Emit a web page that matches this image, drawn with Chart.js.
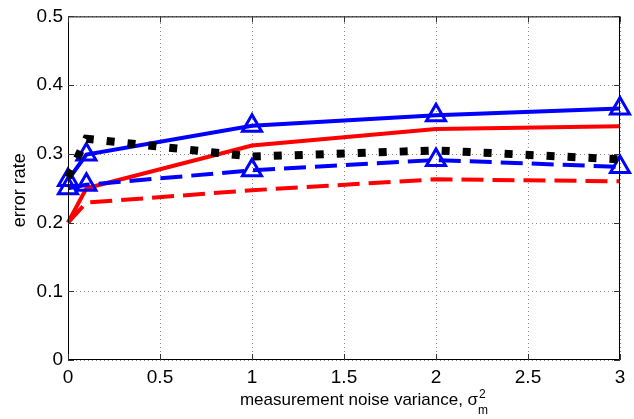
<!DOCTYPE html>
<html>
<head>
<meta charset="utf-8">
<script src="https://cdn.jsdelivr.net/npm/chart.js@4.4.0/dist/chart.umd.min.js"></script>
<style>
html, body { margin: 0; padding: 0; background: #fff; }
</style>
</head>
<body>
<canvas id="graph" width="634" height="419"></canvas>
<script>
// values
const noise = [0, 0.1, 1, 2, 3];
const blueSolid = [0.262, 0.299, 0.341, 0.356, 0.366];
const blueDashed = [0.250, 0.255, 0.276, 0.291, 0.281];
const redSolid = [0.200, 0.250, 0.312, 0.336, 0.340];
const redDashed = [0.200, 0.229, 0.247, 0.263, 0.260];
const blackDotted = [0.266, 0.322, 0.296, 0.305, 0.292];
const xTicks = [0, 0.5, 1, 1.5, 2, 2.5, 3];
const yTicks = [0, 0.1, 0.2, 0.3, 0.4, 0.5];
const xTitle = 'measurement noise variance, σ';
const yTitle = 'error rate';

const FONT = '"Liberation Sans", Arial, Helvetica, sans-serif';
const ctx = document.getElementById('graph');

function pts(arr) {
  return noise.map((x, i) => ({ x: x, y: arr[i] }));
}

// dotted grid under the lines
const dotGrid = {
  id: 'dotGrid',
  beforeDatasetsDraw(chart) {
    const c = chart.ctx;
    const a = chart.chartArea;
    const xs = chart.scales.x, ys = chart.scales.y;
    c.save();
    c.strokeStyle = '#8a8a8a';
    c.lineWidth = 1;
    c.setLineDash([1, 3]);
    c.beginPath();
    xTicks.forEach(v => {
      const px = Math.round(xs.getPixelForValue(v)) + 0.5;
      c.moveTo(px, a.bottom); c.lineTo(px, a.top);
    });
    yTicks.forEach(v => {
      const py = Math.round(ys.getPixelForValue(v)) + 0.5;
      c.moveTo(a.left, py); c.lineTo(a.right, py);
    });
    c.stroke();
    c.restore();
  }
};

// box, inward tick marks and axis titles, drawn like matlab does
const frame = {
  id: 'frame',
  afterDraw(chart) {
    const c = chart.ctx;
    const a = chart.chartArea;
    const xs = chart.scales.x, ys = chart.scales.y;
    c.save();
    c.strokeStyle = '#000';
    c.lineWidth = 1;
    c.beginPath();
    c.rect(a.left + 0.5, a.top + 0.5, a.right - a.left - 1, a.bottom - a.top - 1);
    c.stroke();

    c.strokeStyle = '#333';
    c.beginPath();
    xTicks.forEach(v => {
      const px = Math.round(xs.getPixelForValue(v)) + 0.5;
      c.moveTo(px, a.bottom); c.lineTo(px, a.bottom - 6);
      c.moveTo(px, a.top); c.lineTo(px, a.top + 6);
    });
    yTicks.forEach(v => {
      const py = Math.round(ys.getPixelForValue(v)) + 0.5;
      c.moveTo(a.left, py); c.lineTo(a.left + 6, py);
      c.moveTo(a.right, py); c.lineTo(a.right - 6, py);
    });
    c.stroke();

    // x title with stacked super/subscript
    c.fillStyle = '#000';
    c.textBaseline = 'alphabetic';
    c.textAlign = 'left';
    c.font = '17px ' + FONT;
    const w = c.measureText(xTitle).width;
    c.font = '12px ' + FONT;
    const sw = Math.max(c.measureText('2').width, c.measureText('m').width);
    const cx = (a.left + a.right) / 2 + 20;
    const x0 = cx - (w + sw) / 2;
    c.font = '17px ' + FONT;
    c.fillText(xTitle, x0, 405);
    c.font = '12px ' + FONT;
    c.fillText('2', x0 + w + 1, 398);
    c.fillText('m', x0 + w, 414);

    // y title
    c.save();
    c.translate(25, (a.top + a.bottom) / 2 + 2);
    c.rotate(-Math.PI / 2);
    c.textAlign = 'center';
    c.font = '18px ' + FONT;
    c.fillText(yTitle, 0, 0);
    c.restore();
    c.restore();
  }
};

const graph = new Chart(ctx, {
  type: 'line',
  data: {
    datasets: [{
      label: 'black dotted',
      data: pts(blackDotted),
      borderColor: '#000',
      borderWidth: 8,
      borderDash: [8, 13],
      borderCapStyle: 'butt',
      pointRadius: 0
    }, {
      label: 'blue dashed',
      data: pts(blueDashed),
      borderColor: '#0000ff',
      borderWidth: 4,
      borderDash: [22, 9],
      borderCapStyle: 'butt',
      pointStyle: 'triangle',
      pointRadius: 11,
      pointBorderWidth: 3,
      pointBorderColor: '#0000ff',
      pointBackgroundColor: 'rgba(255,255,255,0)'
    }, {
      label: 'blue solid',
      data: pts(blueSolid),
      borderColor: '#0000ff',
      borderWidth: 4,
      pointStyle: 'triangle',
      pointRadius: 11,
      pointBorderWidth: 3,
      pointBorderColor: '#0000ff',
      pointBackgroundColor: 'rgba(255,255,255,0)'
    }, {
      label: 'red dashed',
      data: pts(redDashed),
      borderColor: '#ff0000',
      borderWidth: 4,
      borderDash: [22, 9],
      borderCapStyle: 'butt',
      pointRadius: 0
    }, {
      label: 'red solid',
      data: pts(redSolid),
      borderColor: '#ff0000',
      borderWidth: 4,
      pointRadius: 0
    }]
  },
  options: {
    responsive: false,
    devicePixelRatio: 1,
    animation: false,
    events: [],
    clip: false,
    elements: { line: { tension: 0 } },
    layout: { padding: { top: 13, right: 6, left: 0, bottom: 0 } },
    plugins: { legend: { display: false }, tooltip: { enabled: false } },
    scales: {
      x: {
        type: 'linear',
        min: 0,
        max: 3,
        afterBuildTicks: s => { s.ticks = xTicks.map(v => ({ value: v })); },
        afterFit: s => { s.height = 59; },
        ticks: {
          color: '#000',
          padding: 6,
          font: { family: FONT, size: 19 },
          callback: v => String(v)
        },
        grid: { display: false, drawTicks: false },
        border: { display: false }
      },
      y: {
        type: 'linear',
        min: 0,
        max: 0.5,
        afterBuildTicks: s => { s.ticks = yTicks.map(v => ({ value: v })); },
        afterFit: s => { s.width = 68; },
        ticks: {
          color: '#000',
          padding: 5,
          font: { family: FONT, size: 19 },
          callback: v => String(v)
        },
        grid: { display: false, drawTicks: false },
        border: { display: false }
      }
    }
  },
  plugins: [dotGrid, frame]
});
</script>
</body>
</html>
